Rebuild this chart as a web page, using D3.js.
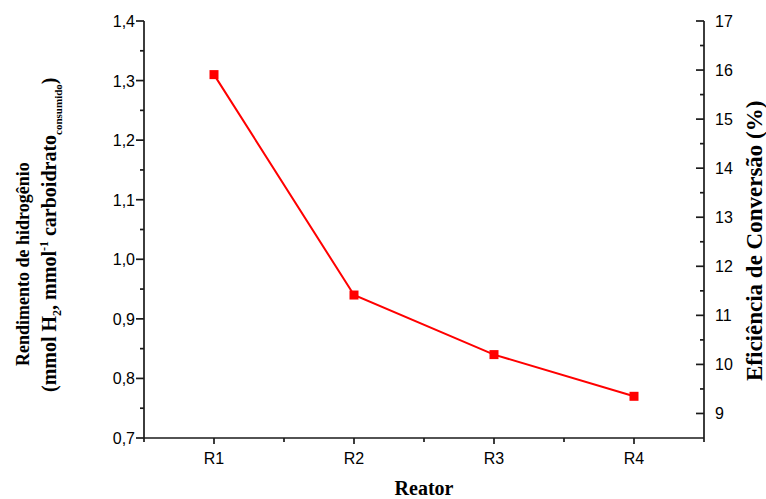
<!DOCTYPE html>
<html>
<head>
    <meta charset="utf-8">
    <title>Rendimento de hidrogênio por reator</title>
    <script src="https://d3js.org/d3.v7.min.js"></script>
    <style>
        body { margin: 0; background: #fff; }
        .tick-label { font-family: Arial, "Liberation Sans", sans-serif; font-size: 16px; fill: #000; }
        .axis-title { font-family: "Times New Roman", "Liberation Serif", serif; font-size: 19px; font-weight: bold; fill: #000; }
        .axis-line { stroke: #1a1a1a; stroke-width: 1.7; fill: none; }
    </style>
</head>
<body>
    <script>
        // chart data
        var reactors = ["R1", "R2", "R3", "R4"];
        var yieldValues = [1.31, 0.94, 0.84, 0.77];
        var leftTicks = [0.7, 0.8, 0.9, 1.0, 1.1, 1.2, 1.3, 1.4];
        var rightTicks = [9, 10, 11, 12, 13, 14, 15, 16, 17];

        var width = 766, height = 499;
        var plotLeft = 144, plotRight = 704, plotTop = 21, plotBottom = 438;

        var svg = d3.select("body").append("svg")
            .attr("width", width)
            .attr("height", height);

        // scales
        var x = d3.scalePoint()
            .domain(reactors)
            .range([plotLeft, plotRight])
            .padding(0.5);

        var y = d3.scaleLinear()
            .domain([0.7, 1.4])
            .range([plotBottom, plotTop]);

        var y2 = d3.scaleLinear()
            .domain([8.5, 17])
            .range([plotBottom, plotTop]);

        var comma = function(v) { return d3.format(".1f")(v).replace(".", ","); };

        // left axis: major ticks out 8px, minor 4px
        var gl = svg.append("g");
        gl.append("line").attr("class", "axis-line")
            .attr("x1", plotLeft).attr("x2", plotLeft).attr("y1", plotTop).attr("y2", plotBottom);
        gl.selectAll(".major").data(leftTicks).enter().append("line")
            .attr("class", "axis-line")
            .attr("x1", plotLeft - 8).attr("x2", plotLeft)
            .attr("y1", d => y(d)).attr("y2", d => y(d));
        gl.selectAll(".minor").data(leftTicks.slice(0, -1)).enter().append("line")
            .attr("class", "axis-line")
            .attr("x1", plotLeft - 4).attr("x2", plotLeft)
            .attr("y1", d => y(d + 0.05)).attr("y2", d => y(d + 0.05));
        gl.selectAll("text").data(leftTicks).enter().append("text")
            .attr("class", "tick-label")
            .attr("x", plotLeft - 9)
            .attr("y", d => y(d) + 6)
            .attr("text-anchor", "end")
            .text(comma);

        // right axis: ticks pointing inward
        var gr = svg.append("g");
        gr.append("line").attr("class", "axis-line")
            .attr("x1", plotRight).attr("x2", plotRight).attr("y1", plotTop).attr("y2", plotBottom);
        gr.selectAll(".major").data(rightTicks).enter().append("line")
            .attr("class", "axis-line")
            .attr("x1", plotRight - 8).attr("x2", plotRight)
            .attr("y1", d => y2(d)).attr("y2", d => y2(d));
        gr.selectAll(".minor").data(rightTicks.slice(0, -1)).enter().append("line")
            .attr("class", "axis-line")
            .attr("x1", plotRight - 4).attr("x2", plotRight)
            .attr("y1", d => y2(d + 0.5)).attr("y2", d => y2(d + 0.5));
        gr.selectAll("text").data(rightTicks).enter().append("text")
            .attr("class", "tick-label")
            .attr("x", plotRight + 11)
            .attr("y", d => y2(d) + 6)
            .text(d => d);

        // bottom axis
        var step = x.step();
        var gb = svg.append("g");
        gb.append("line").attr("class", "axis-line")
            .attr("x1", plotLeft).attr("x2", plotRight).attr("y1", plotBottom).attr("y2", plotBottom);
        gb.selectAll(".major").data(reactors).enter().append("line")
            .attr("class", "axis-line")
            .attr("x1", d => x(d)).attr("x2", d => x(d))
            .attr("y1", plotBottom).attr("y2", plotBottom + 6);
        var halfTicks = reactors.map(d => x(d) - step / 2).concat([x(reactors[reactors.length - 1]) + step / 2]);
        gb.selectAll(".minor").data(halfTicks).enter().append("line")
            .attr("class", "axis-line")
            .attr("x1", d => d).attr("x2", d => d)
            .attr("y1", plotBottom).attr("y2", plotBottom + 4);
        gb.selectAll("text").data(reactors).enter().append("text")
            .attr("class", "tick-label")
            .attr("x", d => x(d))
            .attr("y", 464)
            .attr("text-anchor", "middle")
            .text(d => d);

        // axis titles
        svg.append("text").attr("class", "axis-title")
            .attr("x", (plotLeft + plotRight) / 2).attr("y", 495)
            .attr("text-anchor", "middle")
            .style("font-size", "20px")
            .text("Reator");

        svg.append("text").attr("class", "axis-title")
            .attr("transform", "translate(29,366) rotate(-90)")
            .style("font-size", "18px")
            .text("Rendimento de hidrogênio");

        var t2 = svg.append("text").attr("class", "axis-title")
            .attr("transform", "translate(56,392) rotate(-90)")
            .style("font-size", "20px");
        t2.append("tspan").text("(mmol H");
        t2.append("tspan").attr("dy", 5).style("font-size", "12px").text("2");
        t2.append("tspan").attr("dy", -5).text(", mmol");
        t2.append("tspan").attr("dy", -8).style("font-size", "12px").text("-1");
        t2.append("tspan").attr("dy", 8).text(" carboidrato");
        t2.append("tspan").attr("dy", 6).style("font-size", "11px").text("consumido");
        t2.append("tspan").attr("dy", -6).text(")");

        svg.append("text").attr("class", "axis-title")
            .attr("transform", "translate(762,381) rotate(-90)")
            .style("font-size", "23px")
            .text("Eficiência de Conversão (%)");

        // data line and markers
        var line = d3.line()
            .x((d, i) => x(reactors[i]))
            .y(d => y(d));

        svg.append("path")
            .datum(yieldValues)
            .attr("d", line)
            .attr("fill", "none")
            .attr("stroke", "#ff0000")
            .attr("stroke-width", 2);

        svg.selectAll(".pt").data(yieldValues).enter().append("rect")
            .attr("x", (d, i) => x(reactors[i]) - 4.5)
            .attr("y", d => y(d) - 4.5)
            .attr("width", 9)
            .attr("height", 9)
            .attr("fill", "#ff0000");
    </script>
</body>
</html>
